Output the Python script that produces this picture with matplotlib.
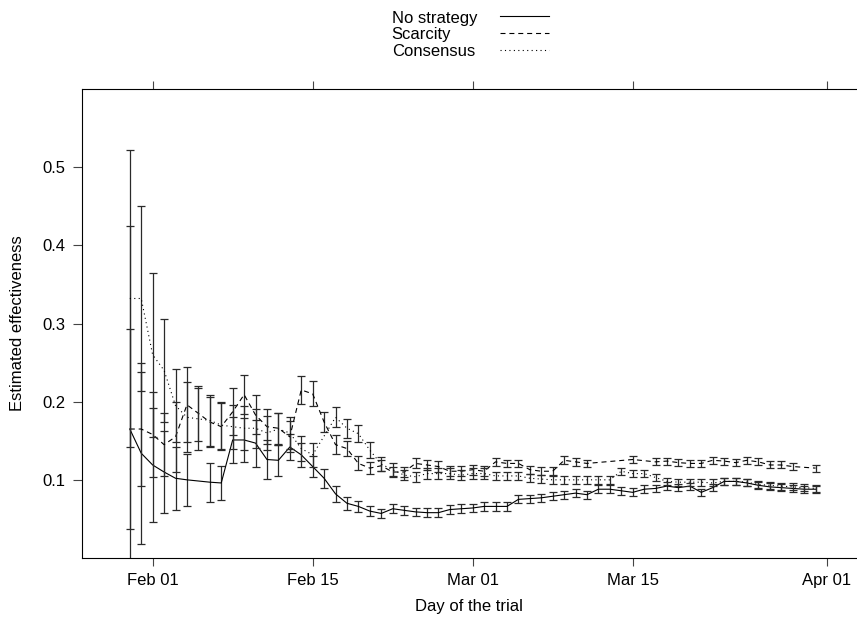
import datetime as dt

import matplotlib
matplotlib.use("Agg")
import matplotlib.pyplot as plt
import matplotlib.dates as mdates
from matplotlib.lines import Line2D

# days counted from Feb 01 (2015)
start = dt.datetime(2015, 2, 1)

ns_days = [-2, -1, 0, 1, 2, 3, 5, 6, 7, 8, 9, 10, 11, 12, 13, 14, 15, 16, 17, 18,
           19, 20, 21, 22, 23, 24, 25, 26, 27, 28, 29, 30, 31, 32, 33, 34, 35, 36,
           37, 38, 39, 40, 41, 42, 43, 44, 45, 46, 47, 48, 49, 50, 51, 52, 53, 54,
           55, 56, 57, 58]
ns_mean = [0.165, 0.134, 0.119, 0.110, 0.102, 0.100, 0.097, 0.096, 0.151, 0.151,
           0.147, 0.126, 0.125, 0.142, 0.132, 0.117, 0.102, 0.082, 0.070, 0.066,
           0.060, 0.057, 0.063, 0.061, 0.059, 0.058, 0.058, 0.062, 0.063, 0.064,
           0.066, 0.066, 0.066, 0.075, 0.076, 0.077, 0.079, 0.081, 0.083, 0.081,
           0.088, 0.088, 0.086, 0.084, 0.088, 0.089, 0.092, 0.090, 0.092, 0.084,
           0.090, 0.098, 0.098, 0.096, 0.093, 0.091, 0.090, 0.089, 0.088, 0.088]
ns_err = [0.26, 0.116, 0.073, 0.052, 0.040, 0.033, 0.025, 0.022, 0.030, 0.028,
          0.030, 0.025, 0.020, 0.016, 0.015, 0.013, 0.012, 0.010, 0.008, 0.007,
          0.0065, 0.006, 0.0055, 0.0055, 0.0055, 0.0055, 0.0055, 0.0055, 0.0055, 0.0055,
          0.0055, 0.0055, 0.0055, 0.005, 0.005, 0.005, 0.005, 0.005, 0.005, 0.005,
          0.005, 0.005, 0.005, 0.005, 0.005, 0.005, 0.005, 0.0045, 0.0045, 0.0045,
          0.0045, 0.0045, 0.0045, 0.0045, 0.0045, 0.0045, 0.0045, 0.0045, 0.0045, 0.0045]

sc_days = [-2, -1, 0, 1, 2, 3, 4, 5, 6, 7, 8, 9, 10, 11, 12, 13, 14, 15, 16, 17,
           18, 19, 20, 21, 22, 23, 24, 25, 26, 27, 28, 29, 30, 31, 32, 33, 34, 35,
           36, 37, 38, 42, 44, 45, 46, 47, 48, 49, 50, 51, 52, 53, 54, 55, 56, 58]
sc_mean = [0.165, 0.165, 0.158, 0.145, 0.155, 0.196, 0.185, 0.174, 0.168, 0.187,
           0.209, 0.183, 0.168, 0.166, 0.155, 0.215, 0.210, 0.174, 0.145, 0.140,
           0.121, 0.115, 0.118, 0.110, 0.110, 0.121, 0.119, 0.117, 0.111, 0.111,
           0.113, 0.111, 0.123, 0.121, 0.121, 0.113, 0.111, 0.111, 0.125, 0.123,
           0.121, 0.126, 0.123, 0.124, 0.122, 0.121, 0.121, 0.125, 0.124, 0.122,
           0.125, 0.123, 0.119, 0.119, 0.117, 0.115]
sc_err = [0.128, 0.073, 0.055, 0.040, 0.045, 0.048, 0.035, 0.032, 0.030, 0.030,
          0.025, 0.025, 0.022, 0.020, 0.020, 0.018, 0.016, 0.013, 0.012, 0.010,
          0.009, 0.008, 0.007, 0.007, 0.0065, 0.0065, 0.0065, 0.0065, 0.0065, 0.0065,
          0.0065, 0.0065, 0.005, 0.005, 0.005, 0.005, 0.005, 0.005, 0.005, 0.005,
          0.005, 0.0045, 0.0045, 0.0045, 0.0045, 0.0045, 0.0045, 0.0045, 0.0045, 0.0045,
          0.0045, 0.0045, 0.0045, 0.0045, 0.0045, 0.0045]

co_days = [-2, -1, 0, 1, 2, 3, 4, 5, 6, 7, 8, 9, 10, 11, 12, 13, 14, 16, 17, 18,
           19, 20, 21, 22, 23, 24, 25, 26, 27, 28, 29, 30, 31, 32, 33, 34, 35, 36,
           37, 38, 39, 40, 41, 42, 43, 44, 45, 46, 47, 48, 49, 50, 51, 52, 53, 54,
           55, 56, 57, 58]
co_mean = [0.332, 0.332, 0.260, 0.240, 0.195, 0.180, 0.178, 0.176, 0.170, 0.168,
           0.166, 0.166, 0.160, 0.165, 0.160, 0.140, 0.132, 0.180, 0.166, 0.159,
           0.138, 0.120, 0.113, 0.106, 0.104, 0.108, 0.108, 0.108, 0.106, 0.108,
           0.108, 0.105, 0.105, 0.105, 0.102, 0.101, 0.100, 0.100, 0.100, 0.100,
           0.100, 0.100, 0.111, 0.108, 0.108, 0.103, 0.098, 0.097, 0.097, 0.097,
           0.096, 0.098, 0.098, 0.097, 0.094, 0.093, 0.092, 0.091, 0.090, 0.089]
co_err = [0.19, 0.118, 0.105, 0.066, 0.047, 0.045, 0.040, 0.033, 0.030, 0.028,
          0.028, 0.025, 0.022, 0.020, 0.020, 0.016, 0.015, 0.013, 0.012, 0.011,
          0.010, 0.009, 0.008, 0.0065, 0.0065, 0.0065, 0.0065, 0.0065, 0.0065, 0.0065,
          0.0065, 0.005, 0.005, 0.005, 0.005, 0.005, 0.005, 0.005, 0.005, 0.005,
          0.005, 0.005, 0.0045, 0.0045, 0.0045, 0.0045, 0.0045, 0.0045, 0.0045, 0.0045,
          0.0045, 0.0045, 0.0045, 0.0045, 0.0045, 0.0045, 0.0045, 0.0045, 0.0045, 0.0045]

labels = ["No strategy", "Scarcity", "Consensus"]
yticks = [0.1, 0.2, 0.3, 0.4, 0.5]
xticks = ["2015-02-01", "2015-02-15", "2015-03-01", "2015-03-15", "2015-04-01"]


def to_dates(days):
    return [start + dt.timedelta(days=d) for d in days]


plt.rcParams['font.family'] = ['Liberation Sans', 'DejaVu Sans']
plt.rcParams['font.size'] = 12

W, H = 857, 622
fig = plt.figure(figsize=(W / 100, H / 100), dpi=100)
ax = fig.add_axes([81.7 / W, (H - 558) / H, 1.005 - 81.7 / W, (558 - 89) / H])

# R style line types: solid, dashed, dotted
styles = [
    dict(linestyle='-'),
    dict(linestyle=(0, (4.5, 3.5))),
    dict(linestyle=(0, (1, 3))),
]

series = [(ns_days, ns_mean, ns_err), (sc_days, sc_mean, sc_err), (co_days, co_mean, co_err)]
for (days, mean, err), st in zip(series, styles):
    x = to_dates(days)
    ax.errorbar(x, mean, yerr=err, fmt='none', ecolor='#2a2a2a',
                elinewidth=0.9, capsize=2.6, capthick=0.9)
    ax.plot(x, mean, color='black', linewidth=0.8, **st)

ax.set_ylim(0, 0.6)
ax.set_xlim(mdates.date2num(dt.datetime(2015, 1, 25, 19)),
            mdates.date2num(dt.datetime(2015, 4, 4, 0)))

ax.set_yticks(yticks)
ax.set_yticklabels([f"{v:.1f}" for v in yticks])
ax.set_xticks([mdates.date2num(dt.datetime.strptime(s, "%Y-%m-%d")) for s in xticks])
ax.xaxis.set_major_formatter(mdates.DateFormatter('%b %d'))

ax.tick_params(axis='y', direction='out', length=6.5, width=0.8, pad=5,
               color='#444444', left=True, right=False)
ax.tick_params(axis='x', direction='out', length=6, width=0.8, pad=5,
               color='#444444', top=True, bottom=True, labeltop=False)
for side in ['left', 'top', 'bottom']:
    ax.spines[side].set_linewidth(0.8)
ax.spines['right'].set_visible(False)

fig.text(18 / W, 1 - 323.5 / H, "Estimated effectiveness", rotation=90,
         ha='center', va='center')
fig.text(469 / W, 1 - 606 / H, "Day of the trial", ha='center', va='center')

# legend on top, text then line sample
base = [22.7, 39.3, 55.5]
ly = [16.0, 33.0, 50.0]
for lab, st, b, yl in zip(labels, styles, base, ly):
    fig.text(391.7 / W, 1 - b / H, lab, ha='left', va='baseline')
    fig.add_artist(Line2D([500 / W, 549 / W], [1 - yl / H, 1 - yl / H],
                          transform=fig.transFigure, color='black',
                          linewidth=0.8, **st))

fig.savefig("out.png", dpi=100)
